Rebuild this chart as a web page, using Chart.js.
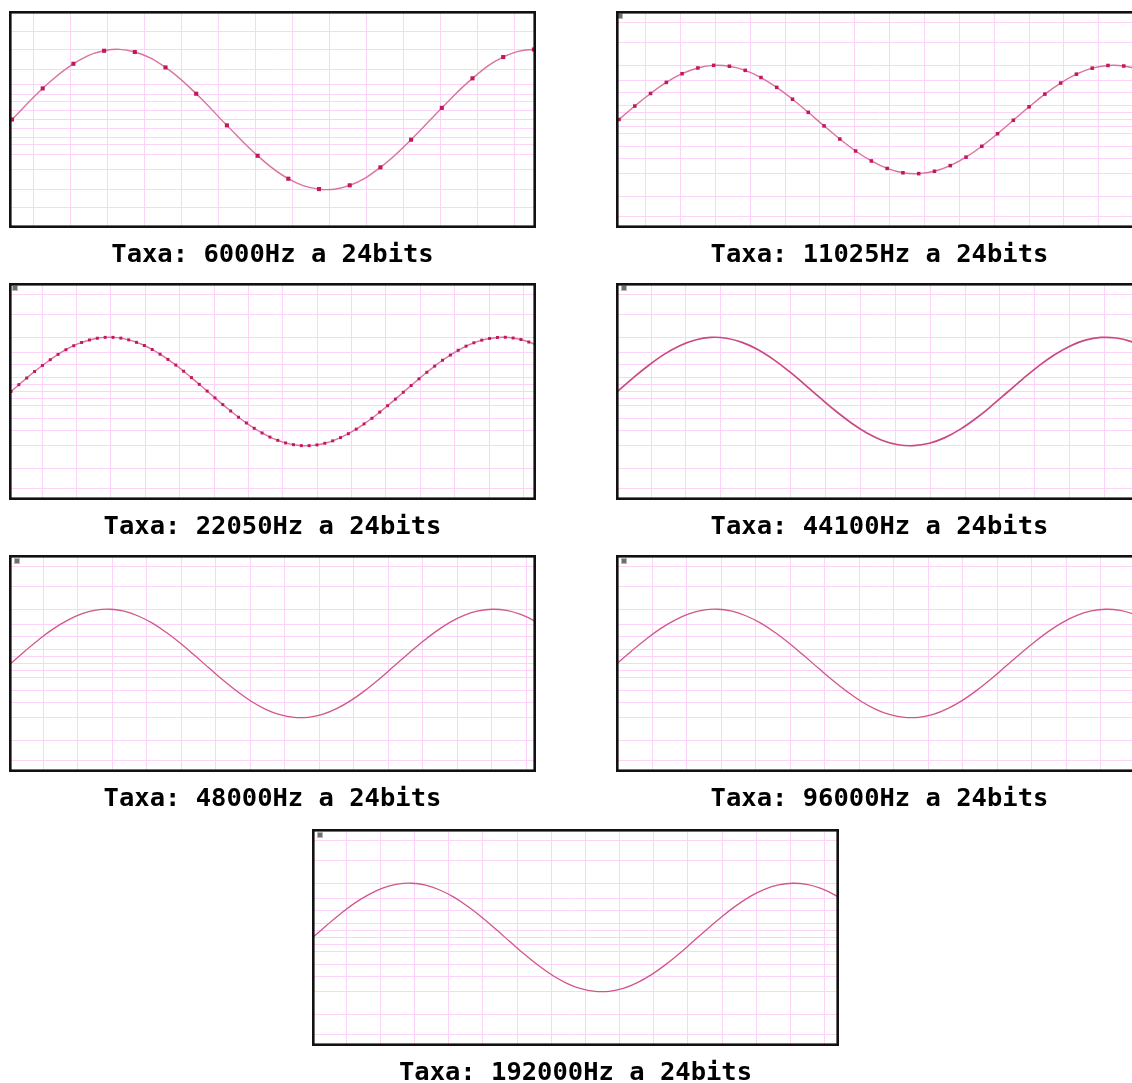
<!DOCTYPE html>
<html><head><meta charset="utf-8">
<script src="https://cdn.jsdelivr.net/npm/chart.js@4.4.1/dist/chart.umd.min.js"></script>
<style>
html,body{margin:0;padding:0;background:#fff;overflow:hidden;width:1132px;height:1083px;position:relative}
canvas{position:absolute}
</style></head><body>
<canvas id="c0" width="527" height="272" style="left:9px;top:11px"></canvas>
<canvas id="c1" width="527" height="272" style="left:616px;top:11px"></canvas>
<canvas id="c2" width="527" height="272" style="left:9px;top:283px"></canvas>
<canvas id="c3" width="527" height="272" style="left:616px;top:283px"></canvas>
<canvas id="c4" width="527" height="272" style="left:9px;top:555px"></canvas>
<canvas id="c5" width="527" height="272" style="left:616px;top:555px"></canvas>
<canvas id="c6" width="527" height="272" style="left:312px;top:829px"></canvas>
<script>
// ---------------- DATA ----------------
const titles = [
  "Taxa: 6000Hz a 24bits",
  "Taxa: 11025Hz a 24bits",
  "Taxa: 22050Hz a 24bits",
  "Taxa: 44100Hz a 24bits",
  "Taxa: 48000Hz a 24bits",
  "Taxa: 96000Hz a 24bits",
  "Taxa: 192000Hz a 24bits"
];
const sampleRates = [6000, 11025, 22050, 44100, 48000, 96000, 192000];
// how many native samples lie between two plotted values (dense rates read coarser)
const plottedEvery = [1, 1, 1, 4, 4, 8, 16];

const values6000 = [0, 0.222, 0.398, 0.491, 0.482, 0.372, 0.184, -0.042, -0.259, -0.423,
  -0.497, -0.470, -0.342, -0.144, 0.083, 0.294, 0.446, 0.500, 0.452];

const values11025 = [0, 0.124, 0.240, 0.342, 0.422, 0.475, 0.499, 0.491, 0.453, 0.387,
  0.296, 0.187, 0.066, -0.059, -0.180, -0.290, -0.382, -0.451, -0.491, -0.499,
  -0.477, -0.425, -0.347, -0.247, -0.131, -0.007, 0.117, 0.234, 0.336, 0.418,
  0.473, 0.498, 0.493, 0.457, 0.391];

const values22050 = [0, 0.063, 0.124, 0.184, 0.240, 0.293, 0.342, 0.385, 0.422, 0.452,
  0.475, 0.491, 0.499, 0.499, 0.492, 0.476, 0.453, 0.424, 0.387, 0.344,
  0.296, 0.244, 0.187, 0.128, 0.066, 0.004, -0.059, -0.121, -0.180, -0.237,
  -0.290, -0.339, -0.382, -0.420, -0.450, -0.474, -0.490, -0.499, -0.499, -0.492,
  -0.477, -0.455, -0.425, -0.389, -0.347, -0.299, -0.247, -0.190, -0.131, -0.070,
  -0.007, 0.055, 0.117, 0.177, 0.234, 0.288, 0.336, 0.380, 0.418, 0.449,
  0.473, 0.489, 0.498, 0.500, 0.493, 0.479, 0.456, 0.427];

const values44100 = [0, 0.124, 0.240, 0.342, 0.422, 0.475, 0.499, 0.491, 0.453, 0.387,
  0.296, 0.187, 0.066, -0.059, -0.180, -0.290, -0.382, -0.451, -0.491, -0.499,
  -0.477, -0.425, -0.347, -0.247, -0.131, -0.007, 0.117, 0.234, 0.336, 0.418,
  0.473, 0.498, 0.493, 0.457, 0.391];

const values48000 = [0, 0.114, 0.222, 0.319, 0.398, 0.457, 0.491, 0.500, 0.482, 0.438,
  0.372, 0.285, 0.184, 0.073, -0.042, -0.155, -0.259, -0.350, -0.422, -0.472,
  -0.497, -0.496, -0.469, -0.416, -0.342, -0.250, -0.145, -0.031, 0.083, 0.194,
  0.294, 0.379, 0.443, 0.484, 0.500, 0.489, 0.452, 0.391, 0.311];

const values96000 = [0, 0.114, 0.222, 0.319, 0.398, 0.457, 0.491, 0.500, 0.482, 0.438,
  0.372, 0.285, 0.184, 0.073, -0.042, -0.155, -0.259, -0.350, -0.422, -0.472,
  -0.497, -0.496, -0.469, -0.416, -0.342, -0.250, -0.145, -0.031, 0.083, 0.194,
  0.294, 0.379, 0.443, 0.484, 0.500, 0.489, 0.452, 0.391, 0.311];

const values192000 = [0, 0.114, 0.222, 0.319, 0.398, 0.457, 0.491, 0.500, 0.482, 0.438,
  0.372, 0.285, 0.184, 0.073, -0.042, -0.155, -0.259, -0.350, -0.422, -0.472,
  -0.497, -0.496, -0.469, -0.416, -0.342, -0.250, -0.145, -0.031, 0.083, 0.194,
  0.294, 0.379, 0.443, 0.484, 0.500, 0.489, 0.452, 0.391, 0.311];

const seriesValues = [values6000, values11025, values22050, values44100, values48000, values96000, values192000];

// amplitude grid levels (linear value of dB marks)
const gridLevelsZoomed = [-0.631, -0.501, -0.355, -0.251, -0.178, -0.126, -0.063, 0, 0.063, 0.126, 0.178, 0.251, 0.355, 0.501, 0.631];
const gridLevelsFull = [-0.891, -0.708, -0.501, -0.355, -0.251, -0.126, -0.063, 0, 0.063, 0.126, 0.251, 0.355, 0.501, 0.708, 0.891];

// ---------------- LAYOUT / STYLE ----------------
const W = 527;
const panels = [
  {pxPerMs: 184.2, firstOffset: 3.0, gridOffset: 24.3, gridSpacing: 37.0, yMax: 0.775, grid: gridLevelsZoomed, icon: null, points: 2.9, line: '#d9739f', lw: 1.4},
  {pxPerMs: 173.9, firstOffset: 3.0, gridOffset: 29.7, gridSpacing: 34.85, yMax: 1, grid: gridLevelsFull, icon: [1, 2], points: 2.5, line: '#d9739f', lw: 1.4},
  {pxPerMs: 173.0, firstOffset: 2.0, gridOffset: 33.0, gridSpacing: 34.4, yMax: 1, grid: gridLevelsFull, icon: [3, 2], points: 2.1, line: '#d9739f', lw: 1.4},
  {pxPerMs: 172.0, firstOffset: 1.3, gridOffset: 35.0, gridSpacing: 34.9, yMax: 1, grid: gridLevelsFull, icon: [5, 2], points: 0, line: '#c94a82', lw: 1.7},
  {pxPerMs: 170.0, firstOffset: 1.7, gridOffset: 34.3, gridSpacing: 34.5, yMax: 1, grid: gridLevelsFull, icon: [5, 3], points: 0, line: '#d0578b', lw: 1.3},
  {pxPerMs: 172.5, firstOffset: 1.0, gridOffset: 36.3, gridSpacing: 34.5, yMax: 1, grid: gridLevelsFull, icon: [5, 3], points: 0, line: '#d0578b', lw: 1.3},
  {pxPerMs: 169.4, firstOffset: 0.7, gridOffset: 34.0, gridSpacing: 34.2, yMax: 1, grid: gridLevelsFull, icon: [5, 3], points: 0, line: '#d0578b', lw: 1.3}
];

const framePlugin = {
  id: 'frame',
  afterDraw(chart, args, opts) {
    const {ctx, chartArea: a} = chart;
    ctx.save();
    if (opts.icon) {
      const x = a.left + opts.icon[0], y = a.top + opts.icon[1];
      ctx.fillStyle = '#b8b8b8';
      ctx.fillRect(x, y, 6, 6);
      ctx.fillStyle = '#6e6e6e';
      ctx.fillRect(x + 1, y + 1, 4, 4);
    }
    ctx.strokeStyle = '#111';
    ctx.lineWidth = 2.6;
    ctx.strokeRect(a.left + 1.3, a.top + 1.3, a.right - a.left - 2.6, a.bottom - a.top - 2.6);
    ctx.restore();
  }
};

panels.forEach((p, k) => {
  const rate = sampleRates[k];
  const step = plottedEvery[k];
  const xMin = -p.firstOffset / p.pxPerMs;
  const xMax = xMin + W / p.pxPerMs;
  const data = seriesValues[k].map((v, i) => ({x: i * step * 1000 / rate, y: v}));
  new Chart(document.getElementById('c' + k), {
    type: 'line',
    data: {datasets: [{
      data,
      borderColor: p.line,
      borderWidth: p.lw,
      tension: 0.4,
      pointStyle: 'rect',
      pointRadius: p.points,
      pointHoverRadius: 0,
      pointBackgroundColor: '#c2185b',
      pointBorderColor: '#c2185b',
      pointBorderWidth: 0,
      fill: false
    }]},
    plugins: [framePlugin],
    options: {
      responsive: false,
      animation: false,
      events: [],
      layout: {padding: 0, autoPadding: false},
      plugins: {
        legend: {display: false},
        tooltip: {enabled: false},
        frame: {icon: p.icon},
        title: {
          display: true,
          text: titles[k],
          position: 'bottom',
          color: '#000',
          font: {family: "'DejaVu Sans Mono', monospace", weight: 'bold', size: 25.5, lineHeight: 1.2},
          padding: {top: 12, bottom: 12.4}
        }
      },
      scales: {
        x: {
          type: 'linear',
          min: xMin,
          max: xMax,
          border: {display: false},
          ticks: {display: false},
          grid: {color: '#fbd4f8', lineWidth: 1, drawTicks: false},
          afterBuildTicks(scale) {
            const t = [];
            for (let pos = p.gridOffset; pos < W; pos += p.gridSpacing) t.push({value: xMin + pos / p.pxPerMs});
            scale.ticks = t;
          }
        },
        y: {
          type: 'linear',
          min: -p.yMax,
          max: p.yMax,
          border: {display: false},
          ticks: {display: false},
          grid: {
            color: c => (c.tick && c.tick.value === 0) ? '#b2f5fa' : '#fbd4f8',
            lineWidth: 1,
            drawTicks: false
          },
          afterBuildTicks(scale) {
            scale.ticks = p.grid.map(v => ({value: v}));
          }
        }
      }
    }
  });
});
</script>
</body></html>
